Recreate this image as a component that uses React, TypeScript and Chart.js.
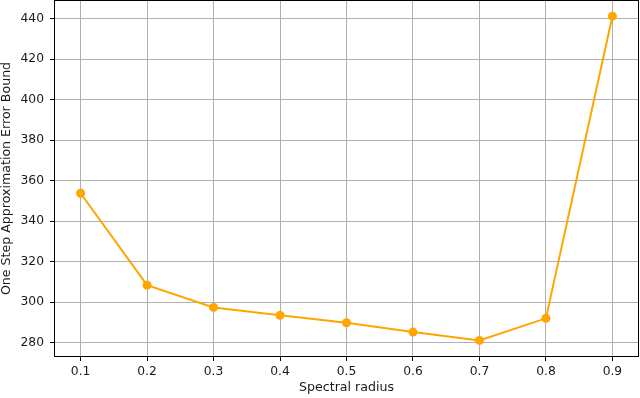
import React, { useEffect, useRef } from "react";
import { Chart, registerables } from "chart.js";

Chart.register(...registerables);

const radii = [0.1, 0.2, 0.3, 0.4, 0.5, 0.6, 0.7, 0.8, 0.9];
const errorBound = [353.8, 308.4, 297.4, 293.5, 289.8, 285.2, 281.1, 292.0, 441.3];
const xTicks = [0.1, 0.2, 0.3, 0.4, 0.5, 0.6, 0.7, 0.8, 0.9];
const yTicks = [280, 300, 320, 340, 360, 380, 400, 420, 440];

const FONT = "'DejaVu Sans', sans-serif";
const TEXT = "#1a1a1a";

const framePlugin = {
  id: "frame",
  afterDatasetsDraw(chart: any) {
    const { ctx, chartArea } = chart;
    const { left, right, top, bottom } = chartArea;
    ctx.save();
    ctx.strokeStyle = "#000";
    ctx.lineWidth = 1;
    ctx.strokeRect(Math.round(left) + 0.5, Math.round(top) + 0.5, Math.round(right - left) - 1, Math.round(bottom - top) - 1);
    ctx.restore();
  },
};

const zeroPad = (s: any) => {
  s.paddingTop = 0;
  s.paddingBottom = 0;
  s.paddingLeft = 0;
  s.paddingRight = 0;
};

export default function App() {
  const ref = useRef<HTMLCanvasElement | null>(null);

  useEffect(() => {
    if (!ref.current) return;
    const chart = new Chart(ref.current, {
      type: "line",
      data: {
        datasets: [
          {
            data: radii.map((x, i) => ({ x, y: errorBound[i] })),
            borderColor: "#FFA500",
            backgroundColor: "#FFA500",
            pointBackgroundColor: "#FFA500",
            pointBorderColor: "#FFA500",
            borderWidth: 2,
            pointRadius: 4.5,
            pointBorderWidth: 0,
            tension: 0,
            fill: false,
            clip: false,
          },
        ],
      },
      options: {
        animation: false,
        responsive: false,
        layout: { autoPadding: false, padding: { top: 0, right: 1, left: 0, bottom: 0 } },
        plugins: {
          legend: { display: false },
          tooltip: { enabled: false },
        },
        scales: {
          x: {
            type: "linear",
            min: 0.06,
            max: 0.94,
            afterBuildTicks: (s: any) => {
              s.ticks = xTicks.map((v) => ({ value: v }));
            },
            afterFit: (s: any) => {
              s.height = 41;
              zeroPad(s);
            },
            grid: {
              color: "#b0b0b0",
              lineWidth: 1,
              drawTicks: true,
              tickLength: 4,
              tickColor: "#000",
            },
            border: { display: false },
            ticks: {
              color: TEXT,
              font: { family: FONT, size: 12.3 },
              padding: 3,
              maxRotation: 0,
              callback: (v: any) => Number(v).toFixed(1),
            },
            title: {
              display: true,
              text: "Spectral radius",
              color: TEXT,
              font: { family: FONT, size: 12.6, lineHeight: 1 },
              padding: { top: 0, bottom: 4 },
            },
          },
          y: {
            type: "linear",
            min: 272.9,
            max: 449.3,
            afterBuildTicks: (s: any) => {
              s.ticks = yTicks.map((v) => ({ value: v }));
            },
            afterFit: (s: any) => {
              s.width = 54;
              zeroPad(s);
            },
            grid: {
              color: "#b0b0b0",
              lineWidth: 1,
              drawTicks: true,
              tickLength: 4,
              tickColor: "#000",
            },
            border: { display: false },
            ticks: {
              color: TEXT,
              font: { family: FONT, size: 12.3 },
              padding: 6,
              callback: (v: any) => String(v),
            },
            title: {
              display: true,
              text: "One Step Approximation Error Bound",
              color: TEXT,
              font: { family: FONT, size: 12.6, lineHeight: 1 },
              padding: { top: 0, bottom: 0 },
            },
          },
        },
      },
      plugins: [framePlugin],
    });
    return () => chart.destroy();
  }, []);

  return (
    <div style={{ position: "absolute", left: 0, top: 0, width: 640, height: 398, background: "#fff" }}>
      <canvas ref={ref} width={640} height={398} style={{ display: "block" }} />
    </div>
  );
}
